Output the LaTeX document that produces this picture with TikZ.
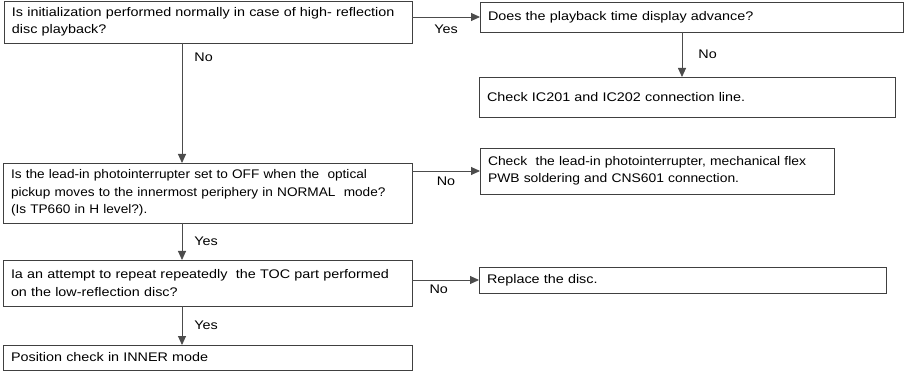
\documentclass[tikz,border=0pt]{standalone}
\usepackage{fontspec}
\setmainfont{Liberation Sans}[FakeStretch=1.15]
\newfontfamily\narrowsans{Liberation Sans}[FakeStretch=1.09]
\newfontfamily\midsans{Liberation Sans}[FakeStretch=1.11]
\usetikzlibrary{arrows.meta}

\begin{document}
\begin{tikzpicture}[
    x=1pt, y=-1pt,
    every node/.style={font=\fontsize{12.5}{17.5}\selectfont},
    box/.style={draw=black!75, line width=0.9pt, anchor=north west, inner xsep=8pt, inner ysep=0pt, outer sep=0pt, align=left},
    narrow/.style={font=\narrowsans\fontsize{12.5}{17.5}\selectfont},
    mid/.style={font=\midsans\fontsize{12.5}{17.5}\selectfont},
    arr/.style={-{Triangle[length=9pt, width=8pt]}, line width=0.9pt, draw=black!70},
    lbl/.style={inner sep=2pt}
  ]
    \useasboundingbox (0,0) rectangle (913,374);

    % Questions down the left side
    \node[box, text width=392pt, minimum height=42pt] (init) at (4,1)
      {Is initialization performed normally in case of high- reflection\\disc playback?};
    \node[box, narrow, text width=393pt, minimum height=60pt] (leadin) at (3,163)
      {Is the lead-in photointerrupter set to OFF when the\ \ optical\\pickup moves to the innermost periphery in NORMAL\ \ mode?\\(Is TP660 in H level?).};
    \node[box, text width=393pt, minimum height=46pt] (toc) at (3,260)
      {Ia an attempt to repeat repeatedly\ \ the TOC part performed\\on the low-reflection disc?};
    \node[box, text width=393pt, minimum height=25pt] (inner) at (3,345)
      {Position check in INNER mode};

    % Right side boxes
    \node[box, text width=407pt, minimum height=30pt] (display) at (480,2)
      {Does the playback time display advance?};
    \node[box, text width=400pt, minimum height=40pt] (icline) at (479,77)
      {Check IC201 and IC202 connection line.};
    \node[box, mid, text width=338pt, minimum height=46pt] (checkpi) at (480,148)
      {Check\ \ the lead-in photointerrupter, mechanical flex\\PWB soldering and CNS601 connection.};
    \node[box, text width=391pt, minimum height=26pt] (replace) at (479,267)
      {Replace the disc.};

    % Yes / No branches
    \draw[arr] (init.east |- display.west) -- node[lbl, below=5pt] {Yes} (display.west);
    \draw[arr] ([xshift=202pt]display.south west) -- node[lbl, right=14pt] {No}
      ([xshift=202pt]display.south west |- icline.north);
    \draw[arr] ([xshift=178pt]init.south west) -- node[lbl, pos=0.12, right=10pt] {No}
      ([xshift=178pt]init.south west |- leadin.north);
    \draw[arr] (leadin.east |- checkpi.west) -- node[lbl, below=3pt] {No} (checkpi.west);
    \draw[arr] ([xshift=179pt]leadin.south west) -- node[lbl, right=10pt] {Yes}
      ([xshift=179pt]leadin.south west |- toc.north);
    \draw[arr] (toc.east |- replace.west) -- node[lbl, pos=0.4, below=2pt] {No} (replace.west);
    \draw[arr] ([xshift=179pt]toc.south west) -- node[lbl, right=10pt] {Yes}
      ([xshift=179pt]toc.south west |- inner.north);

\end{tikzpicture}
\end{document}
